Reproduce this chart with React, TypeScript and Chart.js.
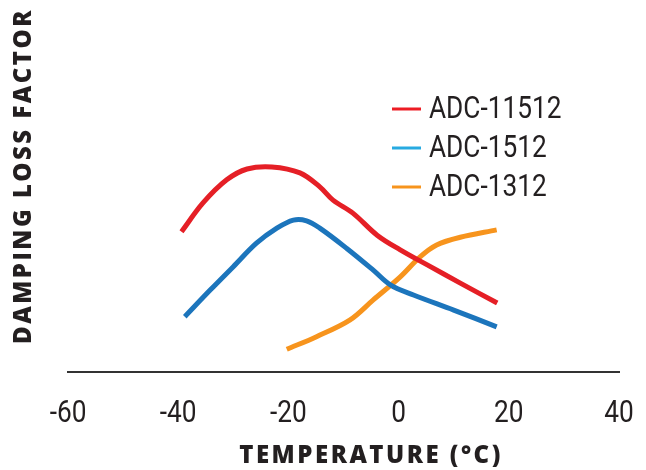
import { useEffect, useRef } from "react"
import { Chart, registerables } from "chart.js"

Chart.register(...registerables)

// temperature (°C) / relative loss factor
const seriesNames = ["ADC-11512", "ADC-1512", "ADC-1312"]

const red11512Temp = [-39.4, -35.5, -31.2, -27.5, -23.0, -17.9, -14.3, -11.9, -8.3, -3.9, 0.3, 5.2, 11.2, 17.9]
const red11512Loss = [4.01, 4.83, 5.49, 5.8, 5.86, 5.69, 5.29, 4.91, 4.54, 3.91, 3.49, 3.06, 2.54, 1.97]

const blue1512Temp = [-38.8, -34.2, -30.0, -25.8, -22.1, -19.1, -16.7, -14.3, -9.4, -4.6, -1.5, 2.7, 10.0, 17.8]
const blue1512Loss = [1.58, 2.34, 3.01, 3.68, 4.11, 4.34, 4.32, 4.11, 3.53, 2.91, 2.49, 2.2, 1.77, 1.29]

const orange1312Temp = [-20.3, -14.9, -8.8, -4.6, 0.3, 3.9, 6.9, 11.2, 17.8]
const orange1312Loss = [0.65, 1.01, 1.49, 2.06, 2.72, 3.29, 3.63, 3.85, 4.06]

const xTicks = [-60, -40, -20, 0, 20, 40]

const lineColors = ["#E51F26", "#1C75BC", "#F7941D"]
const legendColors = ["#ED1C24", "#27AAE1", "#F7941D"]

const INK = "#231F20"
const NARROW = '"Liberation Sans Narrow", "Roboto", sans-serif'
const TITLE_FONT = '"Open Sans", sans-serif'
const SQUEEZE = 0.82 // no condensed face installed, so squeeze Roboto

const pts = (xs: number[], ys: number[]) => xs.map((x, i) => ({ x, y: ys[i] }))

function narrowText(ctx: CanvasRenderingContext2D, text: string, x: number, y: number, align: "left" | "center") {
  ctx.save()
  ctx.translate(x, y)
  ctx.scale(SQUEEZE, 1)
  ctx.textAlign = align
  ctx.fillText(text, 0, 0)
  ctx.restore()
}

// titles, tick labels and the legend placed inside the plot
const overlayPlugin = {
  id: "overlay",
  afterDraw(chart: Chart) {
    const { ctx, chartArea } = chart
    const xScale = chart.scales.x

    ctx.save()
    ctx.fillStyle = INK
    ctx.font = `32px ${NARROW}`
    ctx.textBaseline = "alphabetic"
    xScale.ticks.forEach((t) => {
      narrowText(ctx, String(t.value), xScale.getPixelForValue(t.value), chartArea.bottom + 50, "center")
    })

    chart.data.datasets.forEach((ds, i) => {
      const y = 109 + i * 39
      ctx.strokeStyle = legendColors[i]
      ctx.lineWidth = 3
      ctx.beginPath()
      ctx.moveTo(392, y)
      ctx.lineTo(421, y)
      ctx.stroke()
      narrowText(ctx, String(ds.label), 429, y + 9, "left")
    })
    ctx.restore()

    ctx.save()
    ctx.fillStyle = INK
    ctx.font = `800 24px ${TITLE_FONT}`
    ;(ctx as any).letterSpacing = "2.5px"
    ctx.textAlign = "center"
    ctx.textBaseline = "middle"
    ctx.fillText("TEMPERATURE (°C)", 371, 456)

    ctx.translate(24, 176)
    ctx.rotate(-Math.PI / 2)
    ctx.fillText("DAMPING LOSS FACTOR", 0, 0)
    ctx.restore()
  },
}

export default function App() {
  const canvasRef = useRef<HTMLCanvasElement>(null)
  const chartRef = useRef<Chart | null>(null)

  useEffect(() => {
    document.body.style.margin = "0"
    if (!canvasRef.current) return
    const ctx = canvasRef.current.getContext("2d")
    if (!ctx) return

    const series = [
      pts(red11512Temp, red11512Loss),
      pts(blue1512Temp, blue1512Loss),
      pts(orange1312Temp, orange1312Loss),
    ]

    chartRef.current = new Chart(ctx, {
      type: "line",
      data: {
        datasets: series.map((data, i) => ({
          label: seriesNames[i],
          data,
          borderColor: lineColors[i],
          borderWidth: 5,
          borderCapStyle: "butt" as const,
          pointRadius: 0,
          tension: 0.35,
          fill: false,
        })),
      },
      options: {
        animation: false,
        responsive: true,
        maintainAspectRatio: false,
        layout: { padding: { left: 68, right: 27, top: 22, bottom: 98 } },
        scales: {
          x: {
            type: "linear",
            min: -60,
            max: 40,
            afterBuildTicks: (scale) => {
              scale.ticks = xTicks.map((value) => ({ value }))
            },
            grid: { display: false, drawTicks: false },
            border: { display: true, color: "#333333", width: 2 },
            // labels are drawn squeezed by the overlay plugin
            ticks: { display: false },
          },
          y: {
            display: false,
            min: 0,
            max: 10,
          },
        },
        plugins: {
          legend: { display: false },
          tooltip: { enabled: false },
        },
      },
      plugins: [overlayPlugin],
    })

    return () => {
      chartRef.current?.destroy()
      chartRef.current = null
    }
  }, [])

  return (
    <div style={{ position: "relative", width: 646, height: 470, background: "#fff" }}>
      <canvas ref={canvasRef} />
    </div>
  )
}
